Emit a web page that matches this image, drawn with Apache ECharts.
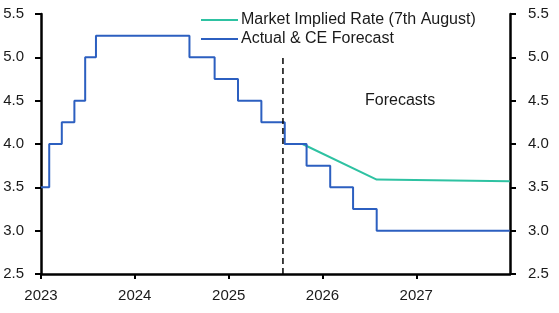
<!DOCTYPE html>
<html>
<head>
<meta charset="utf-8">
<script src="https://cdn.jsdelivr.net/npm/echarts@6/dist/echarts.min.js"></script>
<style>
  html, body { margin: 0; padding: 0; background: #fff; }
  #chart { width: 559px; height: 313px; }
</style>
</head>
<body>
<div id="chart"></div>
<script>
// Bank Rate, actual and CE forecast (step changes)
let actualDates = ['2023-01-01', '2023-02-02', '2023-03-23', '2023-05-11', '2023-06-22', '2023-08-03',
    '2024-08-01', '2024-11-07', '2025-02-06', '2025-05-08', '2025-08-07',
    '2025-10-31', '2026-01-31', '2026-04-30', '2026-07-31', '2027-12-31'];
let actualRates = [3.5, 4.0, 4.25, 4.5, 5.0, 5.25, 5.0, 4.75, 4.5, 4.25, 4.0, 3.75, 3.5, 3.25, 3.0, 3.0];

// market implied path
let marketDates = ['2025-08-07', '2025-10-15', '2026-07-31', '2027-12-31'];
let marketRates = [4.0, 4.0, 3.59, 3.57];

// forecast divider
let dividerDates = ['2025-07-31', '2025-07-31'];
let dividerValues = [2.5, 5.02];

let yTicks = { min: 2.5, max: 5.5, interval: 0.5 };

const zip = (a, b) => a.map((d, i) => [d, b[i]]);

let EC = echarts.init(document.getElementById('chart'));

let axisText = {
    color: '#1a1a1a',
    fontSize: 15,
    fontFamily: 'Liberation Sans'
};

let yAxisBase = {
    type: 'value',
    min: yTicks.min,
    max: yTicks.max,
    interval: yTicks.interval,
    splitLine: { show: false },
    axisLine: { show: true, lineStyle: { color: '#000', width: 2.5 } },
    axisTick: { show: true, length: 6, lineStyle: { color: '#000', width: 2 } }
};

let option = {
    backgroundColor: '#fff',
    animation: false,
    grid: { left: 41, right: 49, top: 14, bottom: 39 },
    legend: {
        orient: 'vertical',
        left: 201,
        top: 12,
        padding: 0,
        itemWidth: 37,
        itemHeight: 2,
        itemGap: 3,
        icon: 'rect',
        textStyle: { color: '#1a1a1a', fontSize: 16, fontFamily: 'Liberation Sans', padding: [0, 0, 0, -2] },
        data: ['Market Implied Rate (7th August)', 'Actual & CE Forecast']
    },
    xAxis: {
        type: 'time',
        min: '2023-01-01',
        max: '2028-01-01',
        minInterval: 365 * 86400000,
        maxInterval: 366 * 86400000,
        splitLine: { show: false },
        axisLine: { show: true, lineStyle: { color: '#000', width: 2.5 } },
        axisTick: { show: true, length: 5, lineStyle: { color: '#000', width: 2 } },
        axisLabel: Object.assign({
            margin: 14,
            showMaxLabel: false,
            formatter: '{yyyy}'
        }, axisText)
    },
    yAxis: [
        Object.assign({
            position: 'left',
            axisLabel: Object.assign({ margin: 17, formatter: v => v.toFixed(1) }, axisText)
        }, yAxisBase),
        Object.assign({
            position: 'right',
            axisLabel: Object.assign({ margin: 18, formatter: v => v.toFixed(1) }, axisText)
        }, yAxisBase)
    ],
    graphic: [{
        type: 'text',
        left: 365,
        top: 93,
        style: {
            text: 'Forecasts',
            fill: '#1a1a1a',
            font: '16px "Liberation Sans"'
        }
    }],
    series: [{
        name: 'Market Implied Rate (7th August)',
        type: 'line',
        data: zip(marketDates, marketRates),
        symbol: 'none',
        lineStyle: { color: '#2ec2a2', width: 2 },
        itemStyle: { color: '#2ec2a2' },
        z: 2
    }, {
        name: 'Actual & CE Forecast',
        type: 'line',
        step: 'end',
        data: zip(actualDates, actualRates),
        symbol: 'none',
        lineStyle: { color: '#2c5fc0', width: 2 },
        itemStyle: { color: '#2c5fc0' },
        z: 3
    }, {
        name: 'divider',
        type: 'line',
        data: zip(dividerDates, dividerValues),
        symbol: 'none',
        lineStyle: { color: '#000', width: 1.5, type: [6, 4] },
        z: 4
    }]
};

EC.setOption(option);
</script>
</body>
</html>
